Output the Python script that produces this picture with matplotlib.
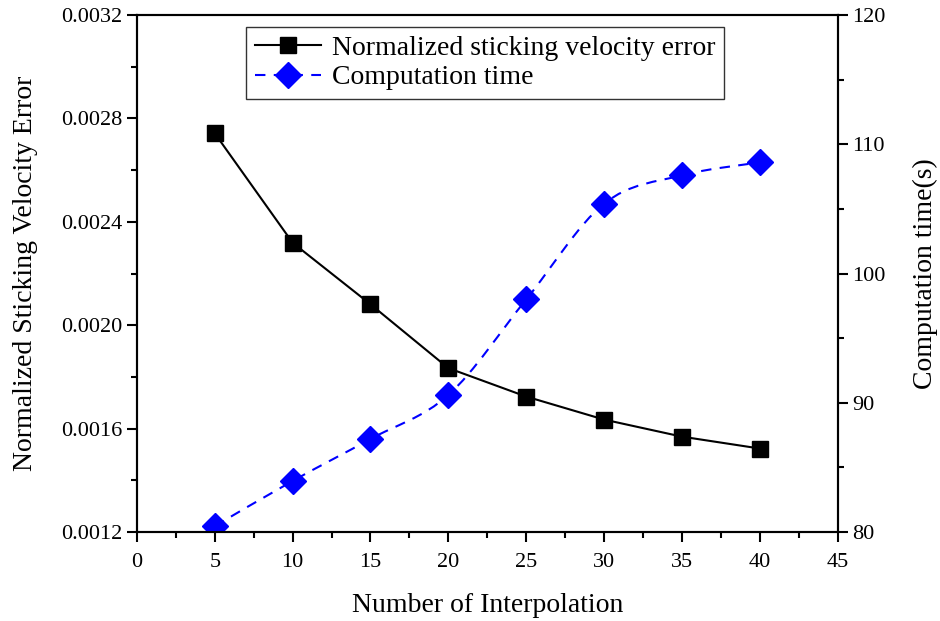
import matplotlib
matplotlib.use('Agg')
import matplotlib.pyplot as plt
from matplotlib.path import Path
from matplotlib.patches import PathPatch
from matplotlib.ticker import MultipleLocator, FormatStrFormatter
import numpy as np

plt.rcParams['font.family'] = ['Liberation Serif', 'DejaVu Serif']

# data
interp = [5, 10, 15, 20, 25, 30, 35, 40]
vel_error = [0.002742, 0.002319, 0.002081, 0.001834, 0.001724, 0.001635, 0.001569, 0.001523]
comp_time = [80.46, 83.95, 87.2, 90.6, 97.99, 105.4, 107.6, 108.6]


def smooth_path(xs, ys):
    # Catmull-Rom curve through the points, as cubic bezier segments
    p = np.column_stack([xs, ys]).astype(float)
    verts = [p[0]]
    codes = [Path.MOVETO]
    n = len(p)
    for i in range(n - 1):
        p0 = p[max(i - 1, 0)]
        p1 = p[i]
        p2 = p[i + 1]
        p3 = p[min(i + 2, n - 1)]
        verts += [p1 + (p2 - p0) / 6, p2 - (p3 - p1) / 6, p2]
        codes += [Path.CURVE4] * 3
    return Path(verts, codes)


fig = plt.figure(figsize=(9.4, 6.21), dpi=100)
ax = fig.add_axes([0.1457, 0.1433, 0.7453, 0.8325])
ax2 = ax.twinx()

l1, = ax.plot(interp, vel_error, color='black', lw=1.5, marker='s',
              markersize=11)
ax2.add_patch(PathPatch(smooth_path(interp, comp_time), fill=False,
                        edgecolor='blue', lw=1.5, linestyle=(0, (5, 4))))
l2, = ax2.plot(interp, comp_time, color='blue', marker='D', markersize=13,
               linestyle='none')

ax.set_xlim(0, 45)
ax.set_ylim(0.0012, 0.0032)
ax2.set_ylim(80, 120)

ax.xaxis.set_major_locator(MultipleLocator(5))
ax.xaxis.set_minor_locator(MultipleLocator(2.5))
ax.yaxis.set_major_locator(MultipleLocator(0.0004))
ax.yaxis.set_minor_locator(MultipleLocator(0.0002))
ax.yaxis.set_major_formatter(FormatStrFormatter('%.4f'))
ax2.yaxis.set_major_locator(MultipleLocator(10))
ax2.yaxis.set_minor_locator(MultipleLocator(5))

for a in (ax, ax2):
    a.tick_params(which='major', direction='out', length=7, width=1.5, labelsize=16)
    a.tick_params(which='minor', direction='out', length=4, width=1.5)
    for s in a.spines.values():
        s.set_linewidth(1.5)
ax.tick_params(axis='x', top=False, pad=8)

ax.set_xlabel('Number of Interpolation', fontsize=20, labelpad=15)
ax.set_ylabel('Normalized Sticking Velocity Error', fontsize=20, labelpad=17)
ax2.set_ylabel('Computation time(s)', fontsize=20, labelpad=20)

l1h, = ax.plot([], [], color='black', lw=1.5, marker='s', markersize=11)
l2h, = ax.plot([], [], color='blue', lw=1.5, marker='D', markersize=13,
               linestyle=(0, (5, 4)))
leg = ax.legend([l1h, l2h], ['Normalized sticking velocity error', 'Computation time'],
                loc='upper left', bbox_to_anchor=(0.262, 0.9565), bbox_transform=fig.transFigure,
                borderaxespad=0, fontsize=20, frameon=True, fancybox=False, edgecolor='black',
                handlelength=2.4, borderpad=0.3, labelspacing=0.15, handletextpad=0.4)
leg.get_frame().set_linewidth(1.0)

fig.savefig('out.png', dpi=100)
